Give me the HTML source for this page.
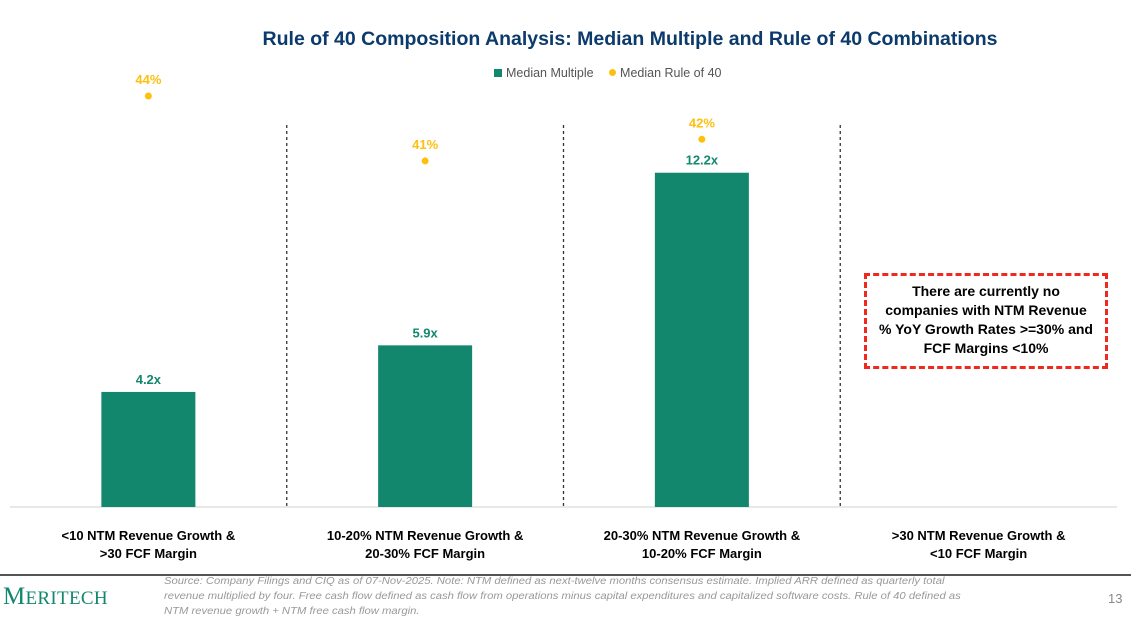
<!DOCTYPE html>
<html><head><meta charset="utf-8"><style>
body{margin:0;width:1131px;height:618px;background:#fff;font-family:"Liberation Sans",sans-serif;overflow:hidden;position:relative}
.t{position:absolute}
</style></head><body>
<div class="t" style="left:0;width:1260px;top:28px;text-align:center;font-size:19.5px;font-weight:bold;color:#0b3a6b">Rule of 40 Composition Analysis: Median Multiple and Rule of 40 Combinations</div>
<div class="t" style="left:494px;top:66px;font-size:12.5px;color:#555">
<span><span style="display:inline-block;width:8px;height:8px;background:#13876e;margin-right:4px"></span>Median Multiple</span>
<span style="margin-left:12px"><span style="display:inline-block;width:7px;height:7px;border-radius:50%;background:#fdc00f;margin-right:4px;vertical-align:1px"></span>Median Rule of 40</span>
</div>
<svg id="chart" width="1131" height="618" style="position:absolute;left:0;top:0"></svg>
<div class="t" style="left:864px;top:273px;border:3px dashed #f0281e;text-align:center;font-size:14px;font-weight:bold;line-height:19px;color:#000;padding-top:6px;box-sizing:border-box;width:244px;height:96px">There are currently no<br>companies with NTM Revenue<br>% YoY Growth Rates &gt;=30% and<br>FCF Margins &lt;10%</div>
<div class="t" style="left:0;top:574px;width:1131px;height:2px;background:#555"></div>
<div class="t" style="left:3px;top:583px;font-family:'Liberation Serif',serif;font-size:25px;color:#13876e;letter-spacing:0.3px">M<span style="font-size:19px">ERITECH</span></div>
<div class="t" style="left:164px;top:574px;width:900px;font-size:10.2px;line-height:15px;color:#999;font-style:italic;white-space:nowrap;transform:scaleX(1.105);transform-origin:left top">Source: Company Filings and CIQ as of 07-Nov-2025. Note: NTM defined as next-twelve months consensus estimate. Implied ARR defined as quarterly total<br>revenue multiplied by four. Free cash flow defined as cash flow from operations minus capital expenditures and capitalized software costs. Rule of 40 defined as<br>NTM revenue growth + NTM free cash flow margin.</div>
<div class="t" style="left:1108px;top:591px;font-size:13px;color:#888">13</div>
<script>
const categories=["<10 NTM Revenue Growth &|>30 FCF Margin","10-20% NTM Revenue Growth &|20-30% FCF Margin","20-30% NTM Revenue Growth &|10-20% FCF Margin",">30 NTM Revenue Growth &|<10 FCF Margin"];
const multiples=[4.2,5.9,12.2,null];
const rule40=[44,41,42,null];
const NS="http://www.w3.org/2000/svg";
const svg=document.getElementById('chart');
const x0=10,x1=1117,base=507,cw=(x1-x0)/categories.length;
const xc=i=>x0+cw*(i+0.5);
const yM=v=>base-v*27.4;
const yR=v=>base-(v-25)*21.63;
function el(t,a,txt){const e=document.createElementNS(NS,t);for(const k in a)e.setAttribute(k,a[k]);if(txt!=null)e.textContent=txt;svg.appendChild(e);return e;}
let ax=el('line',{x1:x0,x2:x1,y1:base,y2:base,stroke:'#d0d0d0','stroke-width':1});


for(let i=1;i<categories.length;i++){
 const d=el('line',{x1:x0+cw*i,x2:x0+cw*i,y1:125,y2:507,stroke:'#333','stroke-width':1.3,'stroke-dasharray':'3,3'});
 
 
}
categories.forEach((c,i)=>{
 const [a,b]=c.split('|');
 const t1=el('text',{x:xc(i),y:540,'text-anchor':'middle','font-size':13,'font-weight':'bold',fill:'#000'},a);
 
 
 const t2=el('text',{x:xc(i),y:558,'text-anchor':'middle','font-size':13,'font-weight':'bold',fill:'#000'},b);
 
 
 if(multiples[i]!=null){
  const v=multiples[i];
  const r=el('rect',{x:xc(i)-47,y:yM(v),width:94,height:base-yM(v),fill:'#13876e'});
  
  
  const l=el('text',{x:xc(i),y:yM(v)-8,'text-anchor':'middle','font-size':13,'font-weight':'bold',fill:'#13876e'},v.toFixed(1)+'x');
  
  
 }
 if(rule40[i]!=null){
  const v=rule40[i];
  const p=el('circle',{cx:xc(i),cy:yR(v),r:3.5,fill:'#fdc00f'});
  
  
  const l=el('text',{x:xc(i),y:yR(v)-12,'text-anchor':'middle','font-size':13,'font-weight':'bold',fill:'#fdc00f'},v+'%');
  
  
 }
});
</script>
</body></html>
